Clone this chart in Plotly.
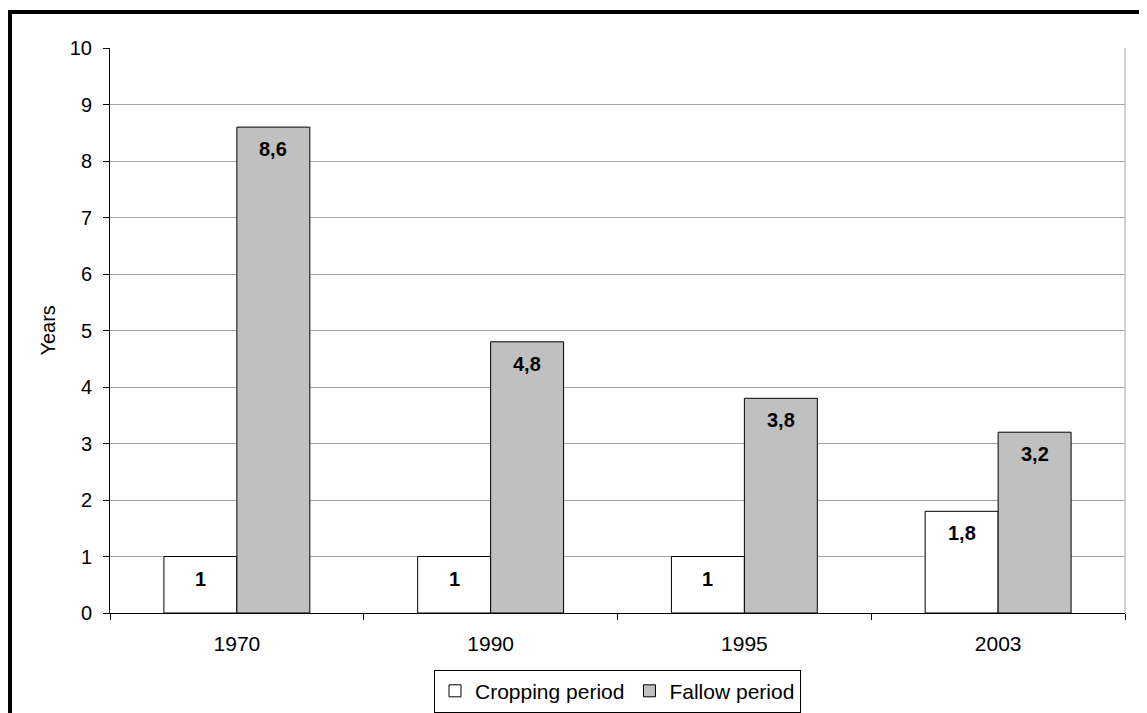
import plotly.graph_objects as go

# === Dados ===
years = ["1970", "1990", "1995", "2003"]
cropping = [1, 1, 1, 1.8]
fallow = [8.6, 4.8, 3.8, 3.2]


def fmt(v):
    return f"{v:g}".replace(".", ",")


FONT = "Liberation Sans, Arial, sans-serif"

fig = go.Figure()
fig.add_trace(go.Bar(
    x=years, y=cropping, name="Cropping period",
    marker=dict(color="white", line=dict(color="black", width=1)),
))
fig.add_trace(go.Bar(
    x=years, y=fallow, name="Fallow period",
    marker=dict(color="#C0C0C0", line=dict(color="black", width=1)),
))

# rótulos dentro das barras (negrito, perto do topo)
half = 36.5
annotations = []
for series, shift in ((cropping, -half), (fallow, half)):
    for i, v in enumerate(series):
        annotations.append(dict(
            x=i, y=v, xref="x", yref="y", text=f"<b>{fmt(v)}</b>",
            showarrow=False, xshift=shift, yshift=-22, yanchor="middle",
            font=dict(size=20, color="black", family=FONT),
        ))

annotations.append(dict(
    x=-0.062, y=0.5, xref="paper", yref="paper", text="Years",
    xanchor="center", yanchor="middle",
    textangle=-90, showarrow=False, font=dict(size=20, color="black", family=FONT),
))

# a página tem 8px de margem no body: margens compensadas
fig.update_layout(
    width=1147, height=713,
    margin=dict(l=102, r=30, t=40, b=108),
    paper_bgcolor="white", plot_bgcolor="white",
    font=dict(family=FONT, size=20, color="black"),
    barmode="group", bargap=0.425, bargroupgap=0,
    showlegend=True,
    legend=dict(
        orientation="h", xref="paper", x=0.5, xanchor="center",
        yref="container", y=0.072, yanchor="top",
        bordercolor="black", borderwidth=1, font=dict(size=21),
        itemwidth=30, tracegroupgap=0,
    ),
    xaxis=dict(
        type="category", range=[-0.5, 3.5], automargin=False,
        showline=True, linecolor="black", linewidth=1,
        ticks="outside", tickson="boundaries", ticklen=6, tickcolor="black",
        ticklabelstandoff=12, tickfont=dict(size=21), tickangle=0, showgrid=False,
    ),
    yaxis=dict(
        range=[0, 10], dtick=1, automargin=False,
        showline=True, linecolor="black", linewidth=1,
        ticks="outside", ticklen=6, tickcolor="black", ticklabelstandoff=7,
        showgrid=True, gridcolor="#A6A6A6", gridwidth=1, zeroline=False,
        tickfont=dict(size=20),
    ),
    annotations=annotations,
    shapes=[
        dict(type="line", xref="paper", yref="y", x0=1, x1=1, y0=0, y1=10,
             line=dict(color="#A6A6A6", width=1)),
        dict(type="rect", xref="paper", yref="paper",
             x0=-0.0985, x1=1.0167, y0=-0.19, y1=1.0637,
             line=dict(color="black", width=4)),
    ],
)

fig.write_html("out.html")
